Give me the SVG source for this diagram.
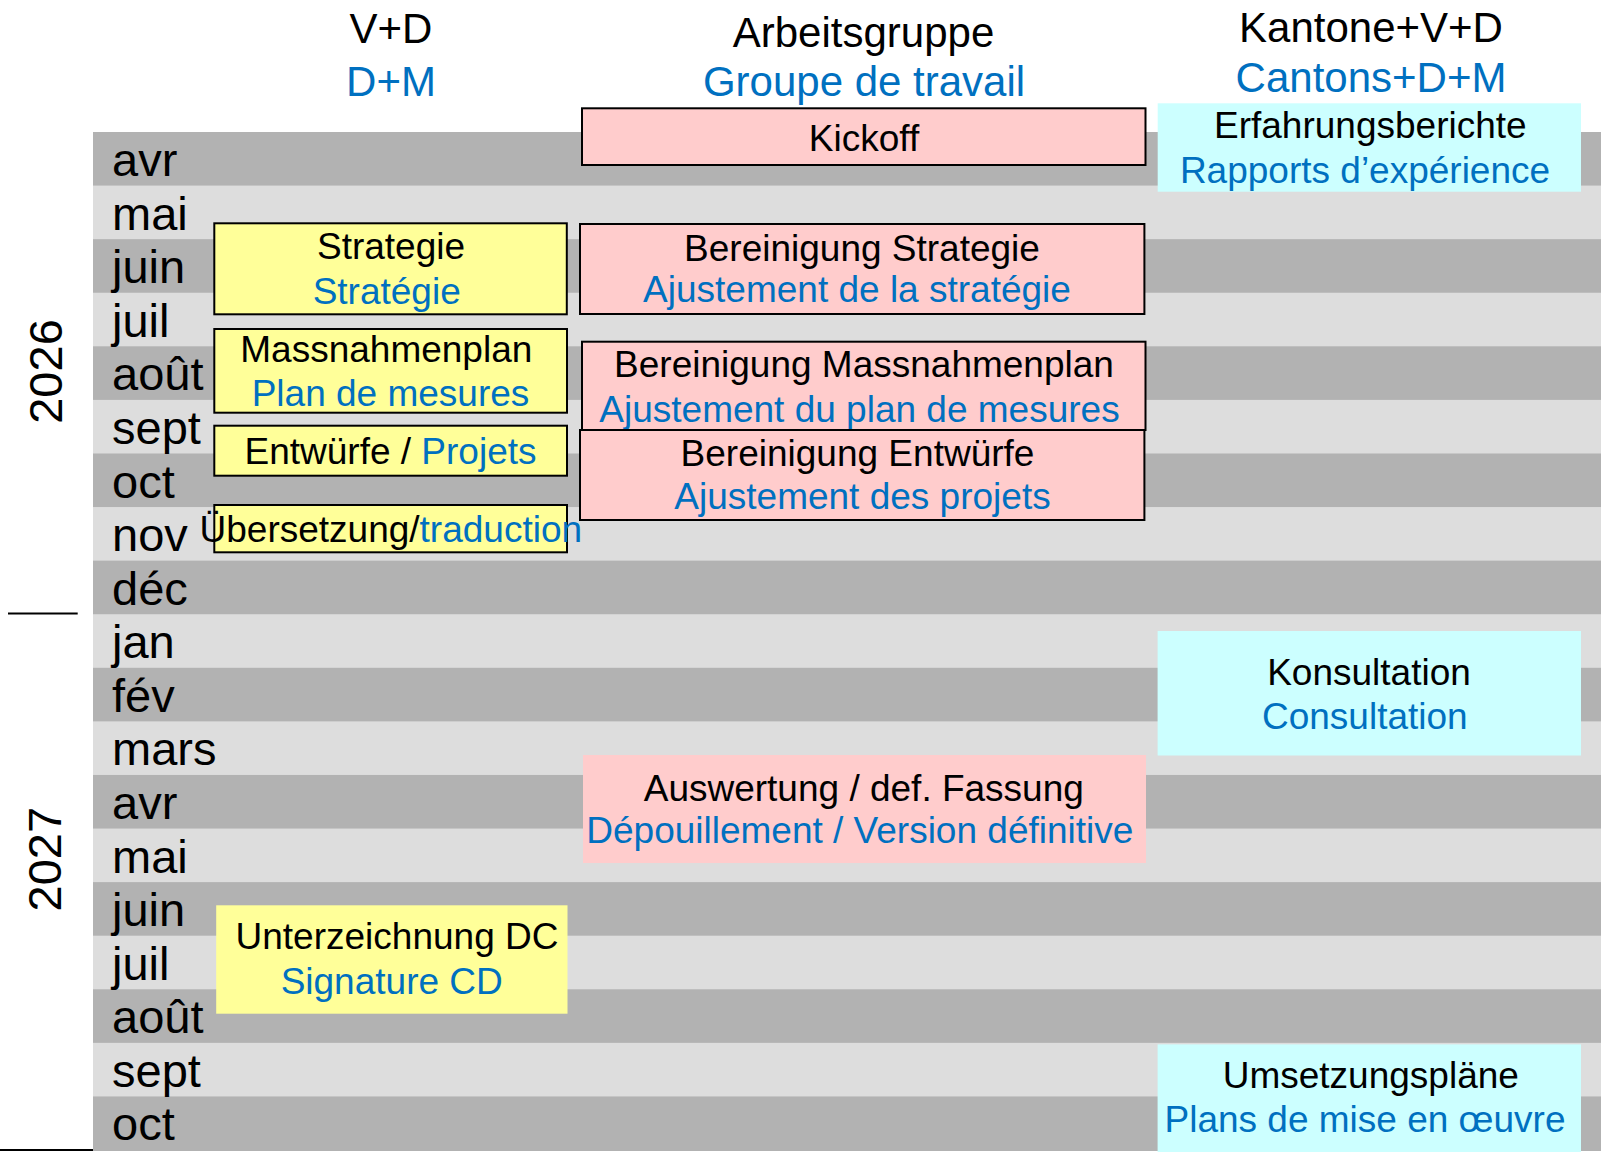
<svg xmlns="http://www.w3.org/2000/svg" width="1601" height="1152" viewBox="0 0 1601 1152">
<style>
text{font-family:"Liberation Sans",Arial,sans-serif;fill:#000}
.h{font-size:42px;text-anchor:middle}
.m{font-size:47px}
.y{font-size:47px;text-anchor:middle}
.t{font-size:37px;text-anchor:middle}
.b{fill:#0070C0}
.dark{fill:#B2B2B2}
.yel{fill:#FFFF99}
.pink{fill:#FFCCCC}
.cyan{fill:#CCFFFF}
.st{stroke:#000;stroke-width:2}
</style>
<rect width="1601" height="1152" fill="#fff"/>
<g id="bands">
<rect x="93" y="132" width="1508" height="1019" fill="#DDDDDD"/>
<rect class="dark" x="93" y="132" width="1508" height="53.58"/>
<rect class="dark" x="93" y="239.16" width="1508" height="53.58"/>
<rect class="dark" x="93" y="346.32" width="1508" height="53.58"/>
<rect class="dark" x="93" y="453.48" width="1508" height="53.58"/>
<rect class="dark" x="93" y="560.64" width="1508" height="53.58"/>
<rect class="dark" x="93" y="667.8" width="1508" height="53.58"/>
<rect class="dark" x="93" y="774.96" width="1508" height="53.58"/>
<rect class="dark" x="93" y="882.12" width="1508" height="53.58"/>
<rect class="dark" x="93" y="989.28" width="1508" height="53.58"/>
<rect class="dark" x="93" y="1096.44" width="1508" height="54.56"/>
</g>
<g id="months">
<text class="m" x="112" y="176">avr</text>
<text class="m" x="112" y="229.6">mai</text>
<text class="m" x="112" y="283.2">juin</text>
<text class="m" x="112" y="336.7">juil</text>
<text class="m" x="112" y="390.3">août</text>
<text class="m" x="112" y="443.9">sept</text>
<text class="m" x="112" y="497.5">oct</text>
<text class="m" x="112" y="551.1">nov</text>
<text class="m" x="112" y="604.6">déc</text>
<text class="m" x="112" y="658.2">jan</text>
<text class="m" x="112" y="711.8">fév</text>
<text class="m" x="112" y="765.4">mars</text>
<text class="m" x="112" y="819">avr</text>
<text class="m" x="112" y="872.5">mai</text>
<text class="m" x="112" y="926.1">juin</text>
<text class="m" x="112" y="979.7">juil</text>
<text class="m" x="112" y="1033.3">août</text>
<text class="m" x="112" y="1086.9">sept</text>
<text class="m" x="112" y="1140.4">oct</text>
</g>
<g id="years">
<text class="y" transform="translate(61.5,371.5) rotate(-90)">2026</text>
<text class="y" transform="translate(61,859.2) rotate(-90)">2027</text>
<line x1="8" y1="613.5" x2="77.7" y2="613.5" stroke="#000" stroke-width="2"/>
<line x1="0" y1="1150" x2="93" y2="1150" stroke="#000" stroke-width="2"/>
</g>
<g id="headers">
<text class="h" x="391" y="43.3">V+D</text>
<text class="h b" x="391" y="95.7">D+M</text>
<text class="h" x="863.5" y="46.7">Arbeitsgruppe</text>
<text class="h b" x="864" y="96">Groupe de travail</text>
<text class="h" x="1371" y="41.7">Kantone+V+D</text>
<text class="h b" x="1371" y="92.3">Cantons+D+M</text>
</g>
<g id="erfahrungsberichte">
<rect class="cyan" x="1157.7" y="103.3" width="423.3" height="88.4"/>
<text class="t" x="1370.3" y="137.7">Erfahrungsberichte</text>
<text class="t b" x="1365" y="182.7">Rapports d’expérience</text>
</g>
<g id="kickoff">
<rect class="pink st" x="582" y="108.3" width="563.5" height="56.7"/>
<text class="t" x="864" y="151">Kickoff</text>
</g>
<g id="strategie">
<rect class="yel st" x="214.3" y="223.3" width="352.5" height="91"/>
<text class="t" x="391" y="259.3">Strategie</text>
<text class="t b" x="386.7" y="304">Stratégie</text>
</g>
<g id="bereinigung-strategie">
<rect class="pink st" x="580" y="224" width="564.4" height="90"/>
<text class="t" x="862" y="260.7">Bereinigung Strategie</text>
<text class="t b" x="857" y="302.3">Ajustement de la stratégie</text>
</g>
<g id="massnahmenplan">
<rect class="yel st" x="214.3" y="329" width="352.7" height="83.7"/>
<text class="t" x="386.3" y="361.7">Massnahmenplan</text>
<text class="t b" x="390.5" y="405.7">Plan de mesures</text>
</g>
<g id="bereinigung-massnahmenplan">
<rect class="pink st" x="582" y="341.7" width="563.5" height="88.3"/>
<text class="t" x="864" y="377.3">Bereinigung Massnahmenplan</text>
<text class="t b" x="859.5" y="421.7">Ajustement du plan de mesures</text>
</g>
<g id="entwuerfe">
<rect class="yel st" x="214.3" y="425.7" width="352.7" height="50"/>
<text class="t" x="390.5" y="464.3">Entwürfe / <tspan class="b">Projets</tspan></text>
</g>
<g id="bereinigung-entwuerfe">
<rect class="pink st" x="580" y="430" width="564.4" height="90"/>
<text class="t" x="857.5" y="465.7">Bereinigung Entwürfe</text>
<text class="t b" x="862.5" y="509.3">Ajustement des projets</text>
</g>
<g id="uebersetzung">
<rect class="yel st" x="214.3" y="505" width="352.7" height="47.3"/>
<text class="t" x="390.8" y="542">Übersetzung/<tspan class="b">traduction</tspan></text>
</g>
<g id="konsultation">
<rect class="cyan" x="1157.6" y="631" width="423.4" height="124.5"/>
<text class="t" x="1369" y="684.5">Konsultation</text>
<text class="t b" x="1364.8" y="728.5">Consultation</text>
</g>
<g id="auswertung">
<rect class="pink" x="583" y="755" width="563" height="108"/>
<text class="t" x="863.8" y="800.7">Auswertung / def. Fassung</text>
<text class="t b" x="859.8" y="843">Dépouillement / Version définitive</text>
</g>
<g id="unterzeichnung">
<rect class="yel" x="216.2" y="905.3" width="351.3" height="108.4"/>
<text class="t" x="397" y="949.3">Unterzeichnung DC</text>
<text class="t b" x="391.7" y="994.3">Signature CD</text>
</g>
<g id="umsetzungsplaene">
<rect class="cyan" x="1157.6" y="1044.4" width="423.4" height="107.6"/>
<text class="t" x="1370.8" y="1087.7">Umsetzungspläne</text>
<text class="t b" x="1365" y="1131.7">Plans de mise en œuvre</text>
</g>
<g id="connectors"/>
</svg>
